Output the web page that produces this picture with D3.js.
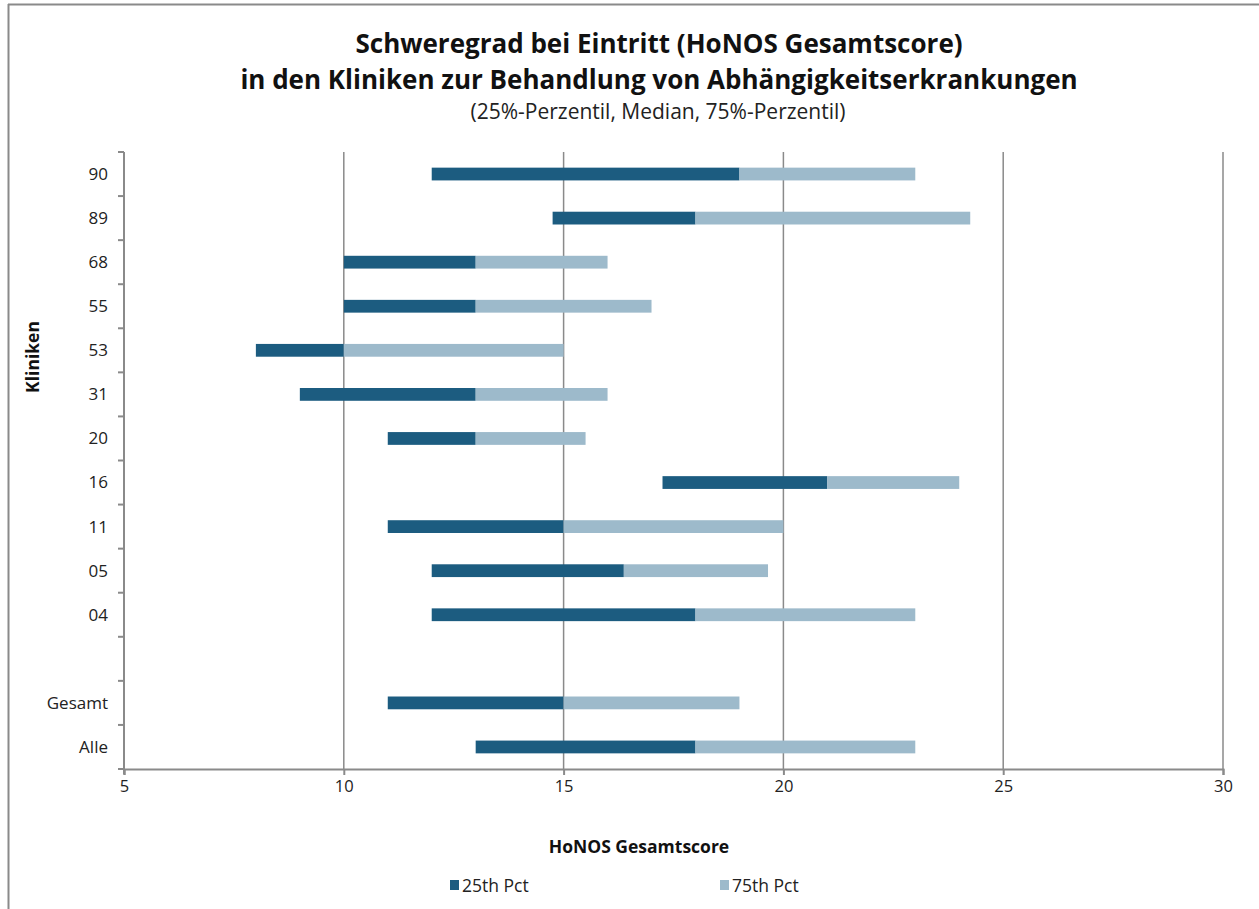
<!DOCTYPE html>
<html>
<head>
<meta charset="utf-8">
<script src="https://cdn.jsdelivr.net/npm/d3@7"></script>
<style>
  html, body { margin: 0; padding: 0; background: #fff; }
  svg { display: block; font-family: "Open Sans", "Noto Sans", sans-serif; }
</style>
</head>
<body>
<svg id="chart" width="1259" height="909"></svg>
<script>
const categories = ["90", "89", "68", "55", "53", "31", "20", "16", "11", "05", "04", "", "Gesamt", "Alle"];
const p25    = [12, 14.75, 10, 10, 8, 9, 11, 17.25, 11, 12, 12, null, 11, 13];
const median = [19, 18, 13, 13, 10, 13, 13, 21, 15, 16.37, 18, null, 15, 18];
const p75    = [23, 24.25, 16, 17, 15, 16, 15.5, 24, 20, 19.65, 23, null, 19, 23];
const xTicks = [5, 10, 15, 20, 25, 30];
const seriesNames = ["25th Pct", "75th Pct"];
const colors = ["#1c5c80", "#9dbacb"];

const svg = d3.select("#chart");
const gray = "#8a8a8a";

// outer frame (partially visible)
svg.append("line").attr("x1", 8).attr("x2", 1259).attr("y1", 4.5).attr("y2", 4.5)
  .attr("stroke", gray).attr("stroke-width", 2);
svg.append("line").attr("x1", 8.5).attr("x2", 8.5).attr("y1", 4).attr("y2", 909)
  .attr("stroke", gray).attr("stroke-width", 2);

const pLeft = 124, pRight = 1223, pTop = 152, pBottom = 769;
const x = d3.scaleLinear().domain([5, 30]).range([pLeft, pRight]);
const idx = categories.map((d, i) => i);
const y = d3.scaleBand().domain(idx).range([pTop, pBottom]).paddingInner(0.71).paddingOuter(0.355);
const yb = d3.scaleBand().domain(idx).range([pTop, pBottom]);

// gridlines
svg.append("g").selectAll("line").data(xTicks.slice(1)).join("line")
  .attr("x1", d => x(d)).attr("x2", d => x(d))
  .attr("y1", pTop).attr("y2", pBottom)
  .attr("stroke", gray).attr("stroke-width", 1.5);

// bars
const rows = idx.filter(i => p25[i] != null);
const bars = svg.append("g");
bars.selectAll("rect.lo").data(rows).join("rect").attr("class", "lo")
  .attr("x", i => x(p25[i])).attr("width", i => x(median[i]) - x(p25[i]))
  .attr("y", i => y(i)).attr("height", y.bandwidth())
  .attr("fill", colors[0]);
bars.selectAll("rect.hi").data(rows).join("rect").attr("class", "hi")
  .attr("x", i => x(median[i])).attr("width", i => x(p75[i]) - x(median[i]))
  .attr("y", i => y(i)).attr("height", y.bandwidth())
  .attr("fill", colors[1]);

// x axis
const xAxis = svg.append("g").attr("transform", `translate(0,${pBottom})`)
  .call(d3.axisBottom(x).tickValues(xTicks).tickSize(6).tickPadding(5).tickFormat(d3.format("d")));
xAxis.select(".domain").attr("stroke", gray).attr("stroke-width", 2);
xAxis.selectAll(".tick line").attr("stroke", gray).attr("stroke-width", 2);
xAxis.selectAll("text").attr("font-size", 16.5).attr("fill", "#222")
  .attr("font-family", "'Open Sans', 'Noto Sans', sans-serif");

// y axis: line + ticks at band boundaries
const yAxisG = svg.append("g");
yAxisG.append("line").attr("x1", pLeft).attr("x2", pLeft).attr("y1", pTop).attr("y2", pBottom + 5)
  .attr("stroke", gray).attr("stroke-width", 2);
const bounds = idx.map(i => yb(i)).concat([pBottom]);
yAxisG.selectAll("line.t").data(bounds).join("line").attr("class", "t")
  .attr("x1", pLeft - 6).attr("x2", pLeft).attr("y1", d => d).attr("y2", d => d)
  .attr("stroke", gray).attr("stroke-width", 2);
yAxisG.selectAll("text").data(idx).join("text")
  .attr("x", 108).attr("y", i => yb(i) + yb.bandwidth() / 2)
  .attr("dy", "0.35em").attr("text-anchor", "end")
  .attr("font-size", 17).attr("fill", "#222")
  .text(i => categories[i]);

// titles
svg.append("text").attr("x", 659).attr("y", 53).attr("text-anchor", "middle")
  .attr("font-size", 26).attr("font-weight", "bold").attr("fill", "#111")
  .text("Schweregrad bei Eintritt (HoNOS Gesamtscore)");
svg.append("text").attr("x", 659).attr("y", 88.5).attr("text-anchor", "middle")
  .attr("font-size", 26).attr("font-weight", "bold").attr("fill", "#111")
  .text("in den Kliniken zur Behandlung von Abhängigkeitserkrankungen");
svg.append("text").attr("x", 658).attr("y", 118.5).attr("text-anchor", "middle")
  .attr("font-size", 21).attr("fill", "#222")
  .text("(25%-Perzentil, Median, 75%-Perzentil)");

// axis titles
svg.append("text").attr("x", 639).attr("y", 853).attr("text-anchor", "middle")
  .attr("font-size", 17.5).attr("font-weight", "bold").attr("fill", "#111")
  .text("HoNOS Gesamtscore");
svg.append("text").attr("transform", "translate(39,357) rotate(-90)").attr("text-anchor", "middle")
  .attr("font-size", 17.5).attr("font-weight", "bold").attr("fill", "#111")
  .text("Kliniken");

// legend
const legendX = [450, 720];
const lg = svg.append("g");
seriesNames.forEach((name, k) => {
  lg.append("rect").attr("x", legendX[k]).attr("y", 880).attr("width", 9).attr("height", 10)
    .attr("fill", colors[k]);
  lg.append("text").attr("x", legendX[k] + 12).attr("y", 892)
    .attr("font-size", 17.5).attr("fill", "#222").text(name);
});
</script>
</body>
</html>
